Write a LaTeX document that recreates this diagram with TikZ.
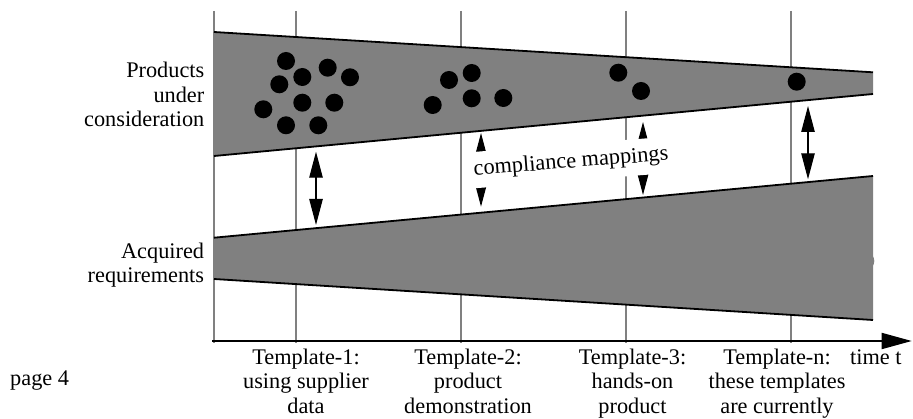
\documentclass[tikz,border=0pt]{standalone}
\usepackage{fontspec}
\setmainfont{Liberation Serif}
\usetikzlibrary{arrows.meta}
% multi-line label whose baseline is the first line's baseline
\newcommand\linestack[2]{\begin{tabular}[t]{@{}#1@{}}#2\end{tabular}}

\begin{document}
\begin{tikzpicture}[x=1pt,y=-1pt,
  lbl/.style={inner sep=0pt, font=\fontsize{22.3}{24.3}\selectfont},
  guide/.style={draw=gray, line width=1.8pt},
  band/.style={fill=gray},
  edge/.style={draw=black, line width=1.8pt},
  dot/.style={fill=black},
  map/.style={line width=1.3pt,
    {Triangle[length=26pt,width=13.4pt]}-{Triangle[length=26pt,width=13.4pt]}},
  axis/.style={line width=1.8pt, -{Triangle[length=30pt,width=16pt]}},
]
\useasboundingbox (0,0) rectangle (913,419);

% time grid: left axis and one guide per template
\foreach \x in {214,296,461,626,791}
  \draw[guide] (\x,11) -- (\x,343);

% products under consideration (narrowing band)
\fill[band] (214,32) -- (873,72.3) -- (873,94) -- (214,156) -- cycle;
\draw[edge] (214,32) -- (873,72.3);
\draw[edge] (214,156) -- (873,94);

% acquired requirements (widening band)
\fill[band] (214,237.7) -- (873,176) -- (873,320) -- (214,279) -- cycle;
\fill[band] (865.3,261) circle[radius=9pt];
\draw[edge] (214,237.7) -- (873,176);
\draw[edge] (214,279) -- (873,320);

% candidate products
\foreach \p in {(286,61),(327.7,67.7),(302.3,77),(279.3,84.3),(350,77.3),
                (302.3,102.7),(334.3,102.7),(263.3,109.3),(286,125.3),(318.3,125.3),
                (449,80),(471.7,73),(432.7,105),(471.7,98.3),(503.3,98),
                (618.3,72.7),(641,91),
                (796.7,81.7)}
  \fill[dot] \p circle[radius=9pt];

% compliance mappings between the two bands
\coordinate (m1a) at (316,151.7);  \coordinate (m1b) at (316,225);
\coordinate (m2a) at (481,133);    \coordinate (m2b) at (481,206.7);
\coordinate (m3a) at (643,122);    \coordinate (m3b) at (643,195);
\coordinate (m4a) at (808,106);    \coordinate (m4b) at (808,179.3);
\draw[map] (m1a) -- (m1b);
\draw[map] (m2a) -- (m2b);
\draw[map] (m3a) -- (m3b);
\draw[map] (m4a) -- (m4b);
\node[lbl, fill=white, rotate=4.5, inner xsep=4pt, inner ysep=8pt]
  (cm) at (571,162.5) {compliance mappings};

% time axis
\coordinate (t0) at (212,341);
\coordinate (t1) at (911.7,341);
\draw[axis] (t0) -- (t1);

% labels
\node[lbl, anchor=base east] (prod) at (204.5,78)
  {\linestack{r}{Products\\under\\consideration}};
\node[lbl, anchor=base east] (req) at (204.3,258.3)
  {\linestack{r}{Acquired\\requirements}};
\node[lbl, anchor=base] (tp1) at (306,364.5)
  {\linestack{c}{Template-1:\\using supplier\\data}};
\node[lbl, anchor=base] (tp2) at (468,364.5)
  {\linestack{c}{Template-2:\\product\\demonstration}};
\node[lbl, anchor=base] (tp3) at (632.5,364.5)
  {\linestack{c}{Template-3:\\hands-on\\product}};
\node[lbl, anchor=base] (tpn) at (777,364.5)
  {\linestack{c}{Template-n:\\these templates\\are currently}};
\node[lbl, anchor=base west] (tt) at (850,364.5) {time t};
\node[lbl, anchor=base west] (pg) at (10,385.5) {page 4};
\end{tikzpicture}
\end{document}
